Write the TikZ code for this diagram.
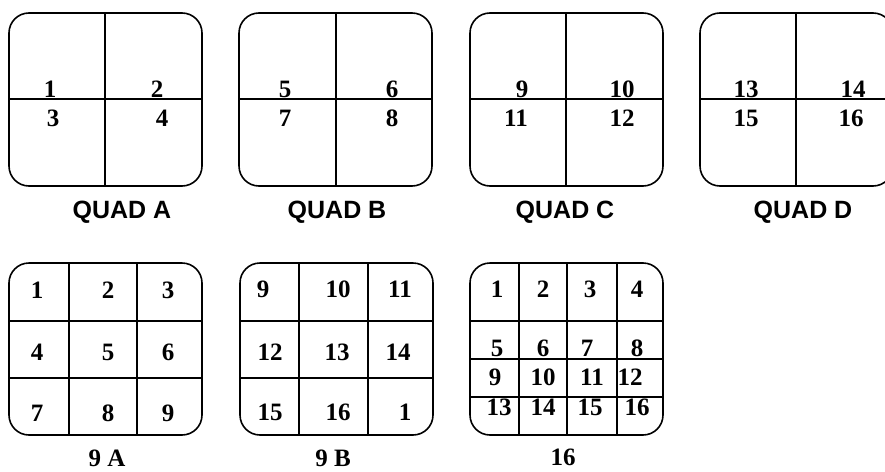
\documentclass[tikz,border=0pt]{standalone}
\usepackage{fontspec}
\setmainfont{Liberation Serif}[BoldFont={Liberation Serif Bold}]
\setsansfont{Liberation Sans}[BoldFont={Liberation Sans Bold}]
\begin{document}
\begin{tikzpicture}[
		x=1pt, y=-1pt,
		frame/.style = {draw=black, line width=1.6pt, rounded corners=20pt},
		cut/.style = {draw=black, line width=1.3pt},
		n/.style = {inner sep=0pt, font=\fontsize{25}{25}\selectfont\bfseries},
		qcap/.style = {inner sep=0pt, anchor=base, font=\fontsize{25}{25}\selectfont\sffamily\bfseries},
		gcap/.style = {inner sep=0pt, anchor=base, font=\fontsize{25}{25}\selectfont\bfseries}
		]
		\useasboundingbox (0,0) rectangle (885,471);
		\clip (0,0) rectangle (885,471);
		
		%Quad lines
		\draw[cut]	(105,13) -- (105,186);	\draw[cut]	(9,99) -- (202,99);
		\draw[cut]	(336,13) -- (336,186);	\draw[cut]	(239,99) -- (432,99);
		\draw[cut]	(566,13) -- (566,186);	\draw[cut]	(470,99) -- (663,99);
		\draw[cut]	(796,13) -- (796,186);	\draw[cut]	(700,99) -- (893,99);
		
		%Quad frames
		\draw[frame]	(9,13)		rectangle	(202,186);
		\draw[frame]	(239,13)	rectangle	(432,186);
		\draw[frame]	(470,13)	rectangle	(663,186);
		\draw[frame]	(700,13)	rectangle	(893,186);
		
		%Quad numbers
		\node[n]	(qa1)	at	(50,89)		{1};
		\node[n]	(qa2)	at	(157,89)	{2};
		\node[n]	(qa3)	at	(53,118)	{3};
		\node[n]	(qa4)	at	(162,118)	{4};
		\node[n]	(qb5)	at	(285,89)	{5};
		\node[n]	(qb6)	at	(392,89)	{6};
		\node[n]	(qb7)	at	(285,118)	{7};
		\node[n]	(qb8)	at	(392,118)	{8};
		\node[n]	(qc9)	at	(522,89)	{9};
		\node[n]	(qc10)	at	(622,89)	{10};
		\node[n]	(qc11)	at	(516,118)	{11};
		\node[n]	(qc12)	at	(622,118)	{12};
		\node[n]	(qd13)	at	(746,89)	{13};
		\node[n]	(qd14)	at	(853,89)	{14};
		\node[n]	(qd15)	at	(746,118)	{15};
		\node[n]	(qd16)	at	(851,118)	{16};
		
		%Quad captions
		\node[qcap]	(capa)	at	(122,218)	{QUAD A};
		\node[qcap]	(capb)	at	(337,218)	{QUAD B};
		\node[qcap]	(capc)	at	(565,218)	{QUAD C};
		\node[qcap]	(capd)	at	(803,218)	{QUAD D};
		
		%Grid lines
		\draw[cut]	(69,263) -- (69,435);	\draw[cut]	(137,263) -- (137,435);
		\draw[cut]	(9,321) -- (202,321);	\draw[cut]	(9,378) -- (202,378);
		\draw[cut]	(299,263) -- (299,435);	\draw[cut]	(368,263) -- (368,435);
		\draw[cut]	(240,321) -- (433,321);	\draw[cut]	(240,378) -- (433,378);
		\draw[cut]	(519,263) -- (519,435);	\draw[cut]	(567,263) -- (567,435);
		\draw[cut]	(617,263) -- (617,435);
		\draw[cut]	(470,321) -- (663,321);	\draw[cut]	(470,359) -- (663,359);
		\draw[cut]	(470,397) -- (663,397);
		
		%Grid frames
		\draw[frame]	(9,263)		rectangle	(202,435);
		\draw[frame]	(240,263)	rectangle	(433,435);
		\draw[frame]	(470,263)	rectangle	(663,435);
		
		%9 A numbers
		\node[n]	(a1)	at	(37,290)	{1};
		\node[n]	(a2)	at	(108,290)	{2};
		\node[n]	(a3)	at	(168,290)	{3};
		\node[n]	(a4)	at	(37,352)	{4};
		\node[n]	(a5)	at	(108,352)	{5};
		\node[n]	(a6)	at	(168,352)	{6};
		\node[n]	(a7)	at	(37,413)	{7};
		\node[n]	(a8)	at	(108,413)	{8};
		\node[n]	(a9)	at	(168,413)	{9};
		
		%9 B numbers
		\node[n]	(b9)	at	(263,289)	{9};
		\node[n]	(b10)	at	(338,289)	{10};
		\node[n]	(b11)	at	(400,289)	{11};
		\node[n]	(b12)	at	(270,352)	{12};
		\node[n]	(b13)	at	(337,352)	{13};
		\node[n]	(b14)	at	(398,352)	{14};
		\node[n]	(b15)	at	(270,412)	{15};
		\node[n]	(b16)	at	(338,412)	{16};
		\node[n]	(b1)	at	(405,412)	{1};
		
		%16 numbers
		\node[n]	(s1)	at	(497,289)	{1};
		\node[n]	(s2)	at	(543,289)	{2};
		\node[n]	(s3)	at	(590,289)	{3};
		\node[n]	(s4)	at	(637,289)	{4};
		\node[n]	(s5)	at	(497,348)	{5};
		\node[n]	(s6)	at	(543,348)	{6};
		\node[n]	(s7)	at	(587,348)	{7};
		\node[n]	(s8)	at	(637,348)	{8};
		\node[n]	(s9)	at	(495,377)	{9};
		\node[n]	(s10)	at	(543,377)	{10};
		\node[n]	(s11)	at	(592,377)	{11};
		\node[n]	(s12)	at	(630,377)	{12};
		\node[n]	(s13)	at	(499,407)	{13};
		\node[n]	(s14)	at	(543,407)	{14};
		\node[n]	(s15)	at	(590,407)	{15};
		\node[n]	(s16)	at	(637,407)	{16};
		
		%Grid captions
		\node[gcap]	(capnine)	at	(107,466)	{9 A};
		\node[gcap]	(capnineb)	at	(333,466)	{9 B};
		\node[gcap]	(capsix)	at	(563,465)	{16};
	\end{tikzpicture}
\end{document}
